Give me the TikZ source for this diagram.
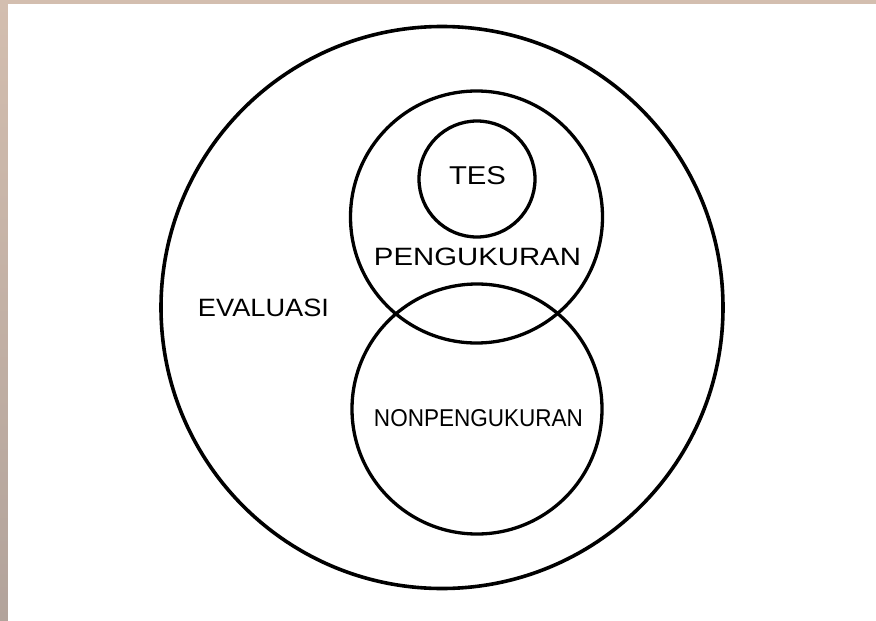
\documentclass[tikz,border=0pt]{standalone}
\usepackage{fontspec}
\setmainfont{Liberation Sans}
\usepackage{graphicx}
\definecolor{frameA}{HTML}{D3BEAF}
\definecolor{frameB}{HTML}{B2A39B}
\begin{document}
\begin{tikzpicture}[x=1pt,y=-1pt,
  ring/.style={circle,draw=black,line width=3.3pt,inner sep=0pt,outer sep=0pt},
  lbl/.style={inner sep=0pt,text=black}]
\useasboundingbox (0,0) rectangle (876,621);
% background frame
\fill[frameA] (0,0) rectangle (876,621);
\shade[top color=frameA,bottom color=frameB] (0,0) rectangle (8,621);
\fill[white] (8,4) rectangle (876,621);
% circles
\node[ring,line width=3.6pt,minimum size=562pt] (evaluasi) at (442,307.5) {};
\node[ring,minimum size=252pt] (pengukuran) at (476.5,217) {};
\node[ring,minimum size=250pt] (nonpengukuran) at (477,409) {};
\node[ring,minimum size=116pt] (tes) at (477,179) {};
% labels
\node[lbl] (tesl) at (477.5,176) {\resizebox{57pt}{18pt}{TES}};
\node[lbl] (pengl) at (477.5,256.5) {\resizebox{207pt}{17.5pt}{PENGUKURAN}};
\node[lbl] (nonl) at (478.5,418.5) {\resizebox{209pt}{17pt}{NONPENGUKURAN}};
\node[lbl] (evall) at (263.5,308) {\resizebox{131pt}{17.5pt}{EVALUASI}};
\end{tikzpicture}
\end{document}
